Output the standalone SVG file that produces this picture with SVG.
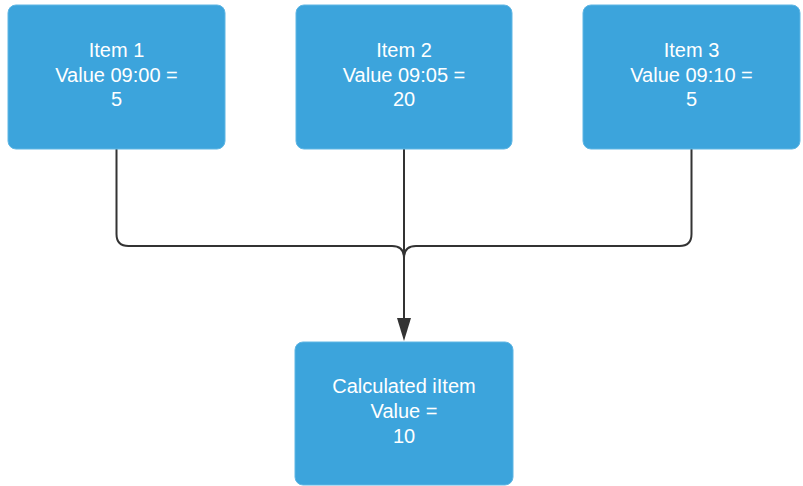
<svg xmlns="http://www.w3.org/2000/svg" width="803" height="486" viewBox="0 0 803 486">
<style>
.box{fill:#3ca4dc;stroke:#5fb6e4;stroke-width:1}
.lbl{font-family:"Liberation Sans",Arial,sans-serif;font-size:20px;fill:#ffffff;text-anchor:middle}
.conn{fill:none;stroke:#333333;stroke-width:2}
</style>
<defs>
<marker id="arrow" markerUnits="userSpaceOnUse" markerWidth="16" markerHeight="24" refX="8" refY="22" orient="auto-start-reverse" viewBox="0 0 16 24">
<path d="M1 0 L15 0 L8 22 Z" fill="#333333"/>
</marker>
</defs>
<rect width="803" height="486" fill="#ffffff"/>
<g id="connectors">
<path class="conn" d="M116.5 149 V234 Q116.5 246 128.5 246 H392 Q404 246 404 258"/>
<path class="conn" d="M691.5 149 V234 Q691.5 246 679.5 246 H416 Q404 246 404 258"/>
<path class="conn" d="M404 149 V318"/>
<path d="M397 318 L411 318 L404 341 Z" fill="#333333"/>
</g>
<g id="item1">
<rect class="box" x="8" y="5" width="217" height="144" rx="8"/>
<text class="lbl" x="116.5" y="57">Item 1</text>
<text class="lbl" x="116.5" y="82">Value 09:00 =</text>
<text class="lbl" x="116.5" y="106">5</text>
</g>
<g id="item2">
<rect class="box" x="296" y="5" width="216" height="144" rx="8"/>
<text class="lbl" x="404" y="57">Item 2</text>
<text class="lbl" x="404" y="82">Value 09:05 =</text>
<text class="lbl" x="404" y="106">20</text>
</g>
<g id="item3">
<rect class="box" x="583" y="5" width="217" height="144" rx="8"/>
<text class="lbl" x="691.5" y="57">Item 3</text>
<text class="lbl" x="691.5" y="82">Value 09:10 =</text>
<text class="lbl" x="691.5" y="106">5</text>
</g>
<g id="calculated">
<rect class="box" x="295" y="342" width="218" height="143" rx="8"/>
<text class="lbl" x="404" y="393">Calculated iItem</text>
<text class="lbl" x="404" y="418">Value =</text>
<text class="lbl" x="404" y="443">10</text>
</g>
</svg>
